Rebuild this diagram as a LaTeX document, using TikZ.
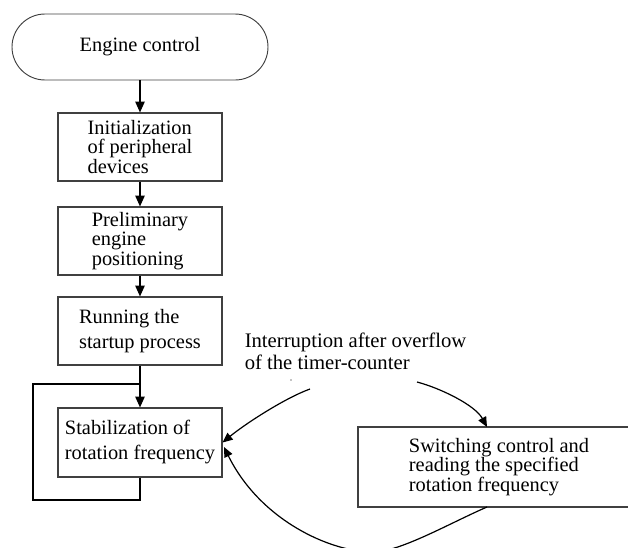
\documentclass[tikz,border=0pt]{standalone}
\usepackage{fontspec}
\setmainfont{Liberation Serif}
\usetikzlibrary{arrows.meta}
\begin{document}
\begin{tikzpicture}[x=0.75pt,y=-0.75pt,
  txt/.style={font=\fontsize{15.3pt}{14.8pt}\selectfont},
  box/.style={draw=black!75, line width=0.9pt, minimum width=123pt, minimum height=51pt,
    inner sep=0pt, align=left, txt},
  term/.style={draw=black!75, line width=0.7pt, minimum width=192pt, minimum height=49.5pt,
    rounded corners=24.75pt, inner sep=0pt, txt},
  conn/.style={draw=black, line width=0.9pt},
  arr/.style={conn, -{Triangle[length=8pt,width=7pt]}},
  carr/.style={conn, -{Triangle[length=7.5pt,width=6.5pt]}}]
\useasboundingbox (0,0) rectangle (628,547);

\node[term] (t) at (140,47) {Engine control};
\node[box] (b1) at (140,147) {Initialization\\of peripheral\\devices};
\node[box] (b2) at (140,241) {Preliminary\\engine\\positioning};
\node[box, font=\fontsize{15.3pt}{18.75pt}\selectfont] (b3) at (140,331) {Running the\\startup process};
\node[box, minimum height=51.75pt, font=\fontsize{15.3pt}{18.75pt}\selectfont] (b4) at (140,442.5) {Stabilization of\\rotation frequency};
\node[box, minimum width=211.5pt, minimum height=60pt] (b5) at (499,467) {Switching control and\\reading the specified\\rotation frequency};
\node[align=left, inner sep=0pt, font=\fontsize{15.5pt}{16.5pt}\selectfont] (lab) at (355.5,351) {Interruption after overflow\\of the timer-counter};
\fill (291,380) circle (0.6);

\draw[arr] (t) -- (b1);
\draw[arr] (b1) -- (b2);
\draw[arr] (b2) -- (b3);
\draw[arr] (b3) -- (b4);

\coordinate (lb) at (33,500);
\coordinate (lt) at (33,384);
\coordinate (j) at (140,384);
\draw[conn] (b4.south) |- (lb) -- (lt) -- (j);

\coordinate (a0) at (310,389);
\coordinate (b0) at (417,382);
\coordinate (b5in) at (487,427);
\coordinate (b5out) at (487,507);
\coordinate (bot) at (373,552);
\coordinate (ce) at (224,447);
\draw[carr] (a0) .. controls (285,398) and (245,424) .. (b4.east);
\draw[carr] (b0) .. controls (440,388) and (475,405) .. (b5in);
\draw[carr] (b5out) .. controls (450,523) and (400,552) .. (bot)
  .. controls (330,552) and (260,520) .. (ce);
\end{tikzpicture}
\end{document}
